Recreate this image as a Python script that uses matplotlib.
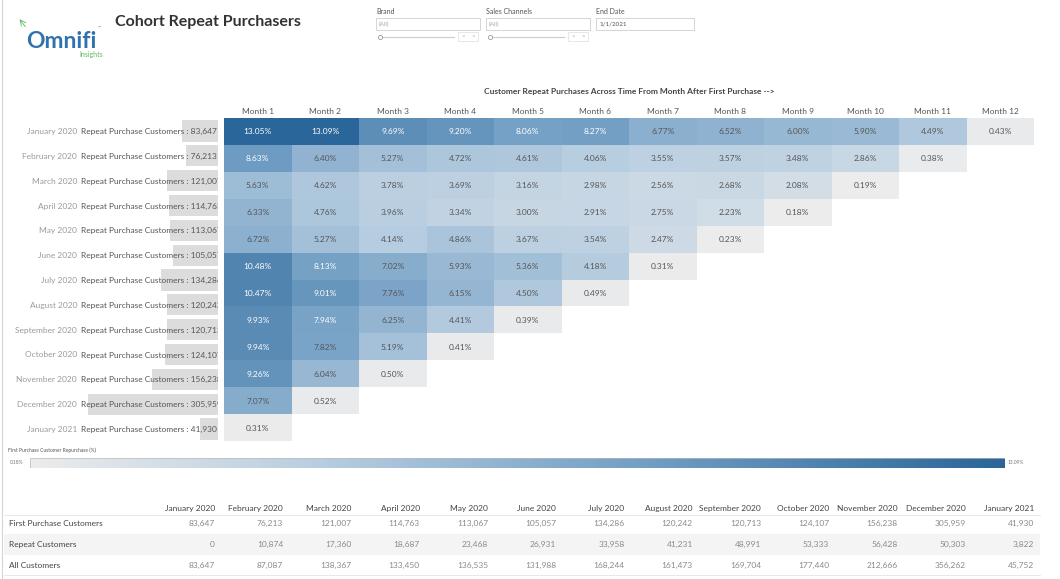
import matplotlib.pyplot as plt
import matplotlib.patches as mpatches
from matplotlib.colors import LinearSegmentedColormap
import numpy as np

plt.rcParams['font.family'] = ['Lato', 'DejaVu Sans']

# cohorts (month of first purchase)
cohorts = ['January 2020', 'February 2020', 'March 2020', 'April 2020', 'May 2020',
           'June 2020', 'July 2020', 'August 2020', 'September 2020', 'October 2020',
           'November 2020', 'December 2020', 'January 2021']
first_purchase = [83647, 76213, 121007, 114763, 113067, 105057, 134286,
                  120242, 120713, 124107, 156238, 305959, 41930]
repeat_customers = [0, 10874, 17360, 18687, 23468, 26931, 33958,
                    41231, 48991, 53333, 56428, 50303, 3822]
all_customers = [83647, 87087, 138367, 133450, 136535, 131988, 168244,
                 161473, 169704, 177440, 212666, 356262, 45752]
months = ['Month %d' % i for i in range(1, 13)]

# % of cohort repurchasing, months after first purchase
repurchase_pct = [
    [13.05, 13.09, 9.69, 9.20, 8.06, 8.27, 6.77, 6.52, 6.00, 5.90, 4.49, 0.43],
    [8.63, 6.40, 5.27, 4.72, 4.61, 4.06, 3.55, 3.57, 3.48, 2.86, 0.38],
    [5.63, 4.62, 3.78, 3.69, 3.16, 2.98, 2.56, 2.68, 2.08, 0.19],
    [6.33, 4.76, 3.96, 3.34, 3.00, 2.91, 2.75, 2.23, 0.18],
    [6.72, 5.27, 4.14, 4.86, 3.67, 3.54, 2.47, 0.23],
    [10.48, 8.13, 7.02, 5.93, 5.36, 4.18, 0.31],
    [10.47, 9.01, 7.76, 6.15, 4.50, 0.49],
    [9.93, 7.94, 6.25, 4.41, 0.39],
    [9.94, 7.82, 5.19, 0.41],
    [9.26, 6.04, 0.50],
    [7.07, 0.52],
    [0.31],
]

table_rows = ['First Purchase Customers', 'Repeat Customers', 'All Customers']

W, H = 1060, 579
fig = plt.figure(figsize=(W / 100, H / 100), dpi=100)


def px_axes(left, top, width, height):
    ax = fig.add_axes([left / W, 1 - (top + height) / H, width / W, height / H])
    ax.set_axis_off()
    return ax


# фон / рамка в пикселях
bg = px_axes(0, 0, W, H)
bg.set_xlim(0, W)
bg.set_ylim(H, 0)
bg.plot([2, 2], [0, H], color='#d5d5d5', lw=0.8)

# логотип и заголовок
bg.text(26, 41, 'Omnifi', fontsize=16.5, fontweight='bold', color='#2f72ad', va='center')
bg.text(98, 28, '™', fontsize=3, color='#2f72ad', va='center')
bg.text(79, 54, 'Insights', fontsize=5, color='#5cb85c', va='center')
bg.annotate('', xy=(18, 17), xytext=(27, 29),
            arrowprops=dict(arrowstyle='->', color='#5cb85c', lw=0.6))
bg.text(115, 22, 'Cohort Repeat Purchasers', fontsize=11.5, fontweight='bold',
        color='#333333', va='center')

# фильтры
for x0, name, val, slider in [(376, 'Brand', '(All)', True),
                              (486, 'Sales Channels', '(All)', True),
                              (596, 'End Date', '1/1/2021', False)]:
    bg.text(x0, 12, name, fontsize=5, color='#555555', va='center')
    bg.add_patch(mpatches.Rectangle((x0, 18), 104 if slider else 98, 12,
                                    fc='white', ec='#cfcfcf', lw=0.6))
    bg.text(x0 + 3, 24, val, fontsize=4.5, color='#aaaaaa' if slider else '#555555',
            va='center')
    if slider:
        bg.plot([x0 + 4, x0 + 78], [37, 37], color='#cccccc', lw=0.8)
        bg.plot([x0 + 4], [37], 'o', ms=3, mfc='white', mec='#999999', mew=0.6)
        bg.add_patch(mpatches.Rectangle((x0 + 82, 32), 20, 9, fc='white',
                                        ec='#dddddd', lw=0.5))
        bg.text(x0 + 87, 36.5, '<', fontsize=4.5, color='#aaaaaa', ha='center', va='center')
        bg.text(x0 + 97, 36.5, '>', fontsize=4.5, color='#aaaaaa', ha='center', va='center')

# heatmap
grid = np.full((12, 12), np.nan)
for i, row in enumerate(repurchase_pct):
    grid[i, :len(row)] = row
vmin, vmax = np.nanmin(grid), np.nanmax(grid)
cmap = LinearSegmentedColormap.from_list(
    'tab_blue', [(0, '#ececec'), (0.3, '#b7cde0'), (0.62, '#74a0c5'), (1, '#2a6699')])

hm = px_axes(224, 118, 810, 323)
hm.pcolormesh(np.ma.masked_invalid(grid), cmap=cmap, vmin=vmin, vmax=vmax,
              edgecolors='face', linewidth=0)
hm.set_xlim(0, 12)
hm.set_ylim(12, 0)
for i, row in enumerate(repurchase_pct):
    for j, v in enumerate(row):
        hm.text(j + 0.5, i + 0.5, '%.2f%%' % v, ha='center', va='center_baseline',
                fontsize=6, color='white' if v > 7.85 else '#555555')
for j, m in enumerate(months):
    hm.text(j + 0.5, -0.27, m, ha='center', va='center_baseline', fontsize=6,
            color='#555555')
hm.text(6, -0.98, 'Customer Repeat Purchases Across Time From Month After First Purchase -->',
        ha='center', va='center', fontsize=6, fontweight='bold', color='#444444')

# подписи когорт с полосами
lab = px_axes(0, 118.6, 218, 322.8)
lab.barh(range(len(cohorts)), first_purchase, height=0.85, color='#dcdcdc')
lab.set_xlim(513000, 0)
lab.set_ylim(len(cohorts) - 0.5, -0.5)
tr = lab.get_yaxis_transform()
for i, (c, n) in enumerate(zip(cohorts, first_purchase)):
    lab.text(77 / 218, i, c, transform=tr, ha='right', va='center_baseline', fontsize=6,
             color='#9a9a9a')
    lab.text(81 / 218, i, 'Repeat Purchase Customers : {:,}'.format(n), transform=tr,
             ha='left', va='center_baseline', fontsize=6, color='#555555', clip_on=True)

# легенда цвета
leg = px_axes(30, 458, 975, 10)
leg.imshow(np.linspace(vmin, vmax, 256)[None, :], cmap=cmap, aspect='auto',
           vmin=vmin, vmax=vmax)
leg.add_patch(mpatches.Rectangle((-0.5, -0.5), 256, 1, fill=False, ec='#bbbbbb', lw=0.5))
bg.text(8, 450, 'First Purchase Customer Repurchase (%)', fontsize=3.5, color='#555555',
        va='center')
bg.text(10, 463, '%.2f%%' % vmin, fontsize=3.5, color='#777777', va='center')
bg.text(1008, 463, '%.2f%%' % vmax, fontsize=3.5, color='#777777', va='center')

# таблица внизу
col_right = np.linspace(215, 1034, len(cohorts))
row_y = [523, 544, 565]
bg.add_patch(mpatches.Rectangle((4, 534), 1036, 21, fc='#f4f4f4', ec='none'))
for y in [515, 575]:
    bg.plot([4, 1040], [y, y], color='#e4e4e4', lw=0.6)
for x, c in zip(col_right, cohorts):
    bg.text(x, 508, c, ha='right', va='center_baseline', fontsize=6, color='#444444')
for y, name, vals in zip(row_y, table_rows, [first_purchase, repeat_customers, all_customers]):
    bg.text(9, y, name, ha='left', va='center_baseline', fontsize=6, color='#444444')
    for x, v in zip(col_right, vals):
        bg.text(x, y, '{:,}'.format(v), ha='right', va='center_baseline', fontsize=6,
                color='#8a8a8a')

fig.savefig('out.png', dpi=100)
